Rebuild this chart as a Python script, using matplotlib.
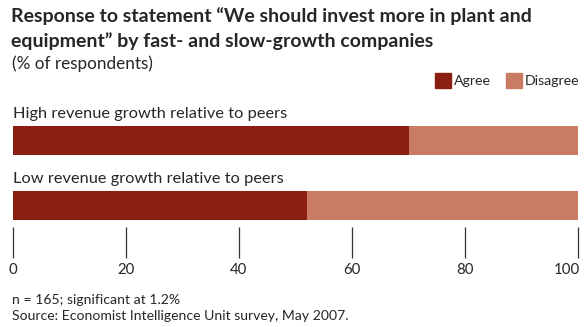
import numpy as np
import matplotlib
matplotlib.use("Agg")
import matplotlib.pyplot as plt
from matplotlib.transforms import ScaledTranslation

# Survey shares (% of respondents)
groups = ["High revenue growth relative to peers", "Low revenue growth relative to peers"]
agree = [70, 52]
disagree = [30, 48]
series_names = ["Agree", "Disagree"]
x_ticks = [0, 20, 40, 60, 80, 100]

title_lines = ["Response to statement \u201cWe should invest more in plant and",
               "equipment\u201d by fast- and slow-growth companies"]
subtitle = "(% of respondents)"
notes = ["n = 165; significant at 1.2%", "Source: Economist Intelligence Unit survey, May 2007."]

RED = "#8b1e12"
SALMON = "#c97b63"
TEXT = "#262626"

plt.rcParams["font.family"] = ["Lato", "DejaVu Sans"]

W, H = 584, 327
fig = plt.figure(figsize=(W / 100, H / 100), dpi=100)

def fx(px):
    return px / W

def fy(py):
    return 1 - py / H

# headings
for line, py in zip(title_lines, [16, 41]):
    fig.text(fx(11), fy(py), line, fontsize=14, fontweight="bold", color=TEXT,
             va="center", ha="left")
fig.text(fx(12), fy(64), subtitle, fontsize=12.3, color=TEXT, va="center", ha="left")

# legend boxes
leg_x = [435, 506]
for name, col, lx in zip(series_names, [RED, SALMON], leg_x):
    fig.patches.append(plt.Rectangle((fx(lx), fy(88)), fx(16), 15 / H,
                                     transform=fig.transFigure, color=col))
    fig.text(fx(lx + 19), fy(81), name, fontsize=10.2, color=TEXT, va="center", ha="left")

# bar panel
ax = fig.add_axes([fx(13), fy(227), fx(578) - fx(13), fy(100) - fy(227)])
y = np.arange(len(groups))
ax.barh(y, agree, height=0.446, color=RED, linewidth=0)
ax.barh(y, disagree, left=agree, height=0.446, color=SALMON, linewidth=0)
ax.set_xlim(0, 100)
ax.set_ylim(1.33, -0.623)

for yi, g in zip(y, groups):
    ax.text(0, yi - 0.41, g, fontsize=11.8, color=TEXT, va="center", ha="left")

for s in ax.spines.values():
    s.set_visible(False)
ax.set_yticks([])
ax.set_xticks(x_ticks)
ax.set_xticklabels([str(t) for t in x_ticks])
ax.tick_params(axis="x", direction="out", length=22, width=0.9, color="#333333",
               labelsize=10.8, labelcolor=TEXT, pad=4)

# keep the last tick label inside the figure
last = ax.get_xticklabels()[-1]
last.set_horizontalalignment("right")
last.set_transform(last.get_transform() + ScaledTranslation(2 / 100, 0, fig.dpi_scale_trans))

# footnotes
fig.text(fx(12), fy(300), notes[0], fontsize=10.1, color=TEXT, va="center", ha="left")
fig.text(fx(12), fy(316), notes[1], fontsize=10.1, color=TEXT, va="center", ha="left")

fig.savefig("out.png", dpi=100, facecolor="white")
